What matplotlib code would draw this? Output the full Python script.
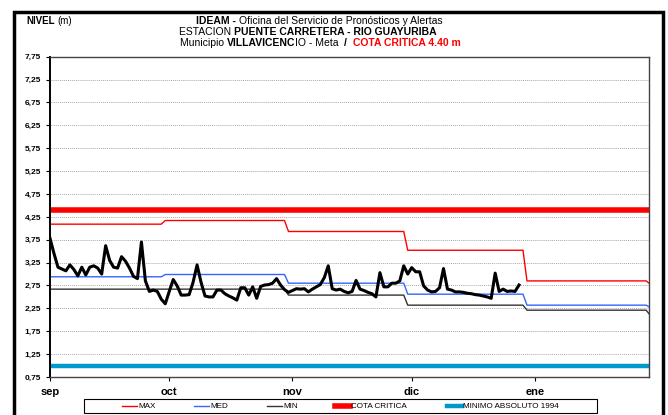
import numpy as np
import matplotlib
matplotlib.use('Agg')
import matplotlib.pyplot as plt
from matplotlib.patches import Rectangle
from matplotlib.lines import Line2D

plt.rcParams['font.family'] = ['Liberation Sans', 'DejaVu Sans']

# Daily levels (m) from Sep 1
nivel = [3.78, 3.45, 3.15, 3.11, 3.07, 3.20, 3.10, 2.96, 3.15, 2.98,
         3.15, 3.18, 3.13, 3.00, 3.62, 3.30, 3.15, 3.13, 3.38, 3.28,
         3.13, 2.95, 2.90, 3.70, 2.85, 2.62, 2.65, 2.62, 2.45, 2.35,
         2.62, 2.88, 2.74, 2.54, 2.54, 2.55, 2.82, 3.20, 2.82, 2.52,
         2.50, 2.50, 2.65, 2.65, 2.57, 2.52, 2.48, 2.43, 2.70, 2.70,
         2.54, 2.72, 2.47, 2.73, 2.76, 2.77, 2.80, 2.90, 2.76, 2.66,
         2.60, 2.64, 2.68, 2.67, 2.68, 2.61, 2.67, 2.72, 2.77, 2.92,
         3.18, 2.68, 2.65, 2.67, 2.62, 2.59, 2.62, 2.86, 2.67, 2.64,
         2.60, 2.57, 2.50, 3.03, 2.72, 2.72, 2.80, 2.80, 2.85, 3.18,
         3.00, 3.14, 3.05, 3.05, 2.74, 2.65, 2.61, 2.62, 2.70, 3.12,
         2.67, 2.65, 2.61, 2.61, 2.60, 2.58, 2.57, 2.55, 2.54, 2.52,
         2.50, 2.47, 3.02, 2.62, 2.67, 2.62, 2.63, 2.62, 2.76]

# Monthly historical references (sep, oct, nov, dic, ene, feb)
mes_inicio = [0, 29, 60, 90, 120, 151]
nivel_max = [4.09, 4.17, 3.93, 3.52, 2.85, 2.78]
nivel_med = [2.94, 2.99, 2.80, 2.56, 2.32, 2.27]
nivel_min = [2.67, 2.67, 2.54, 2.32, 2.21, 2.10]
cota_critica = 4.40
minimo_1994 = 1.00

meses = ['sep', 'oct', 'nov', 'dic', 'ene']
dia_mes = [0, 30, 61, 91, 122]

W, H = 668, 415


def escalon(inicios, valores):
    xs, ys = [], []
    for i, v in enumerate(valores):
        xs.append(inicios[i])
        ys.append(v)
        if i + 1 < len(inicios):
            xs.append(inicios[i + 1] - 1)
            ys.append(v)
    return xs, ys


fig = plt.figure(figsize=(W / 100, H / 100), dpi=100)
ax = fig.add_axes([50 / W, 1 - 377 / H, 599 / W, 320.3 / H])

estilos = {
    'MAX': dict(color='#FF0000', lw=1),
    'MED': dict(color='#3366FF', lw=1),
    'MIN': dict(color='#333333', lw=1),
    'COTA CRITICA': dict(color='#FF0000', lw=4),
    'MINIMO ABSOLUTO 1994': dict(color='#0099CC', lw=3.2),
}

for nombre, valores in [('MAX', nivel_max), ('MED', nivel_med), ('MIN', nivel_min)]:
    x, y = escalon(mes_inicio, valores)
    ax.plot(x, y, **estilos[nombre])
ax.axhline(cota_critica, **estilos['COTA CRITICA'])
ax.axhline(minimo_1994, **estilos['MINIMO ABSOLUTO 1994'])
ax.plot(np.arange(len(nivel)), nivel, color='black', lw=2.2, zorder=5)

ax.set_xlim(0, 150.7)
ax.set_ylim(0.75, 7.75)
yt = np.arange(0.75, 7.76, 0.5)
ax.set_yticks(yt)
ax.set_yticklabels([f'{v:.2f}'.replace('.', ',') for v in yt],
                   fontsize=6, fontweight='bold')
ax.set_xticks(dia_mes)
ax.set_xticklabels(meses, fontsize=8, fontweight='bold')
ax.tick_params(axis='both', direction='out', length=3, width=0.8)
ax.tick_params(axis='x', pad=4)
for v in yt[1:-1]:
    ax.axhline(v, color='#aaaaaa', lw=0.7, ls=(0, (1, 1)), zorder=0)
for s in ['top', 'right', 'bottom']:
    ax.spines[s].set_color('#444444')
    ax.spines[s].set_linewidth(1)
ax.spines['left'].set_linewidth(1.4)

# outer frame
fig.patches.append(Rectangle((14 / W, -0.05), 649 / W, (H - 12) / H + 0.05,
                             transform=fig.transFigure, fill=False,
                             edgecolor='black', lw=2.5))

fig.text(26 / W, 1 - 21 / H, 'NIVEL', fontsize=7, fontweight='bold', va='center')
fig.text(57 / W, 1 - 21 / H, '(m)', fontsize=7, va='center')

renderer = fig.canvas.get_renderer()


def linea(ypix, partes, cx, size=7.5):
    textos = []
    for s, peso, color in partes:
        t = fig.text(0, 1 - ypix / H, s, fontsize=size, fontweight=peso,
                     color=color, va='center', ha='left')
        textos.append(t)
    anchos = [t.get_window_extent(renderer).width for t in textos]
    x0 = cx - sum(anchos) / 2
    for t, w in zip(textos, anchos):
        t.set_x(x0 / W)
        x0 += w


linea(21, [('IDEAM - ', 'bold', 'black'),
           ('Oficina del Servicio de Pronósticos y Alertas', 'normal', 'black')], 319)
linea(32, [('ESTACION ', 'normal', 'black'),
           ('PUENTE CARRETERA - RIO GUAYURIBA', 'bold', 'black')], 308)
linea(43, [('Municipio ', 'normal', 'black'),
           ('VILLAVICENC', 'bold', 'black'),
           ('IO - Meta  ', 'normal', 'black'),
           ('/  ', 'bold', 'black'),
           ('COTA CRITICA 4.40 m', 'bold', '#FF0000')], 320)

# legend box along the bottom
fig.patches.append(Rectangle((84 / W, 1 - 413 / H), 513 / W, 14 / H,
                             transform=fig.transFigure, facecolor='white',
                             edgecolor='black', lw=0.8))
ley_x = [122, 194, 267, 335, 447]
for x0, nombre in zip(ley_x, estilos):
    fig.lines.append(Line2D([x0 / W, (x0 + 15) / W], [1 - 406 / H] * 2,
                            transform=fig.transFigure, **estilos[nombre]))
    fig.text((x0 + 16) / W, 1 - 406 / H, nombre, fontsize=5.9, va='center')

fig.savefig('out.png', dpi=100)
